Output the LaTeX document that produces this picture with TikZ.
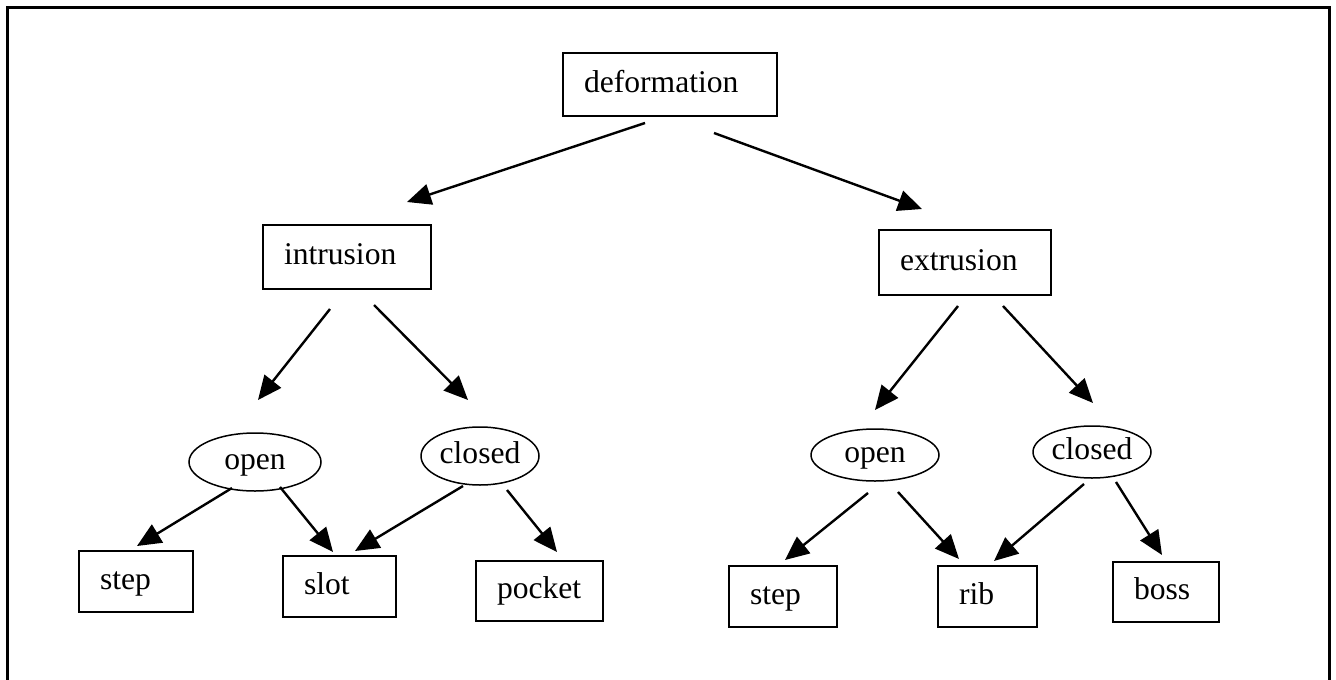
\documentclass[tikz,border=0pt]{standalone}
\usepackage{fontspec}
\setmainfont{Liberation Serif}
\usetikzlibrary{arrows.meta,calc,shapes.geometric}
\begin{document}
\begin{tikzpicture}[x=1pt,y=1pt,
  every node/.style={font=\fontsize{31.6}{38}\selectfont, text height=22pt, text depth=7pt},
  box/.style={draw, line width=2pt, rectangle, inner xsep=21pt, inner ysep=0pt, align=left},
  oval/.style={draw, line width=1.5pt, ellipse, inner sep=0pt, align=center},
  arr/.style={line width=2.4pt, -{Triangle[length=24pt,width=21pt]}}]
\useasboundingbox (0,0) rectangle (1336,-680);
\draw[line width=3pt] (7,-680) -- (7,-7) -- (1329,-7) -- (1329,-680);

% boxes
\node[box, text width=172pt, minimum height=63pt] (deformation) at (670,-84.5) {\mbox{deformation}};
\node[box, text width=126pt, minimum height=64pt] (intrusion) at (347,-257) {\mbox{intrusion}};
\node[box, text width=130pt, minimum height=65pt] (extrusion) at (965,-262.5) {\mbox{extrusion}};
\node[box, text width=72pt, minimum height=61pt] (stepL) at (136,-581.5) {\mbox{step}};
\node[box, text width=71pt, minimum height=61pt] (slot) at (339.5,-586.5) {\mbox{slot}};
\node[box, text width=85pt, minimum height=60pt] (pocket) at (539.5,-591) {\mbox{pocket}};
\node[box, text width=66pt, minimum height=61pt] (stepR) at (783,-596.5) {\mbox{step}};
\node[box, text width=57pt, minimum height=61pt] (rib) at (987.5,-596.5) {\mbox{rib}};
\node[box, text width=64pt, minimum height=60pt] (boss) at (1166,-592) {\mbox{boss}};

% ellipses
\node[oval, minimum width=132pt, minimum height=58pt] (openL) at (255,-462) {open};
\node[oval, minimum width=118pt, minimum height=58pt] (closedL) at (480,-456) {closed};
\node[oval, minimum width=128pt, minimum height=52pt] (openR) at (875,-455) {open};
\node[oval, minimum width=118pt, minimum height=52pt] (closedR) at (1092,-452) {closed};

% connectors
\draw[arr] ($(deformation)+(-25,-38.5)$) -- ($(intrusion)+(60,55)$);
\draw[arr] ($(deformation)+(44,-48.5)$) -- ($(extrusion)+(-43,53.5)$);
\draw[arr] ($(intrusion)+(-17,-52)$) -- ($(openL)+(3,62)$);
\draw[arr] ($(intrusion)+(27,-48)$) -- ($(closedL)+(-12,56)$);
\draw[arr] ($(extrusion)+(-7,-43.5)$) -- ($(openR)+(0,45)$);
\draw[arr] ($(extrusion)+(38,-43.5)$) -- ($(closedR)+(1,49)$);
\draw[arr] ($(openL)+(-23,-26)$) -- ($(stepL)+(1,35.5)$);
\draw[arr] ($(openL)+(25,-25)$) -- ($(slot)+(-6.5,34.5)$);
\draw[arr] ($(closedL)+(-17,-30)$) -- ($(slot)+(15.5,35.5)$);
\draw[arr] ($(closedL)+(27,-34)$) -- ($(pocket)+(17.5,39)$);
\draw[arr] ($(openR)+(-7,-38)$) -- ($(stepR)+(2,36.5)$);
\draw[arr] ($(openR)+(23,-37)$) -- ($(rib)+(-28.5,37.5)$);
\draw[arr] ($(closedR)+(-8,-32)$) -- ($(rib)+(6.5,35.5)$);
\draw[arr] ($(closedR)+(24,-30)$) -- ($(boss)+(-4,37)$);
\end{tikzpicture}
\end{document}
